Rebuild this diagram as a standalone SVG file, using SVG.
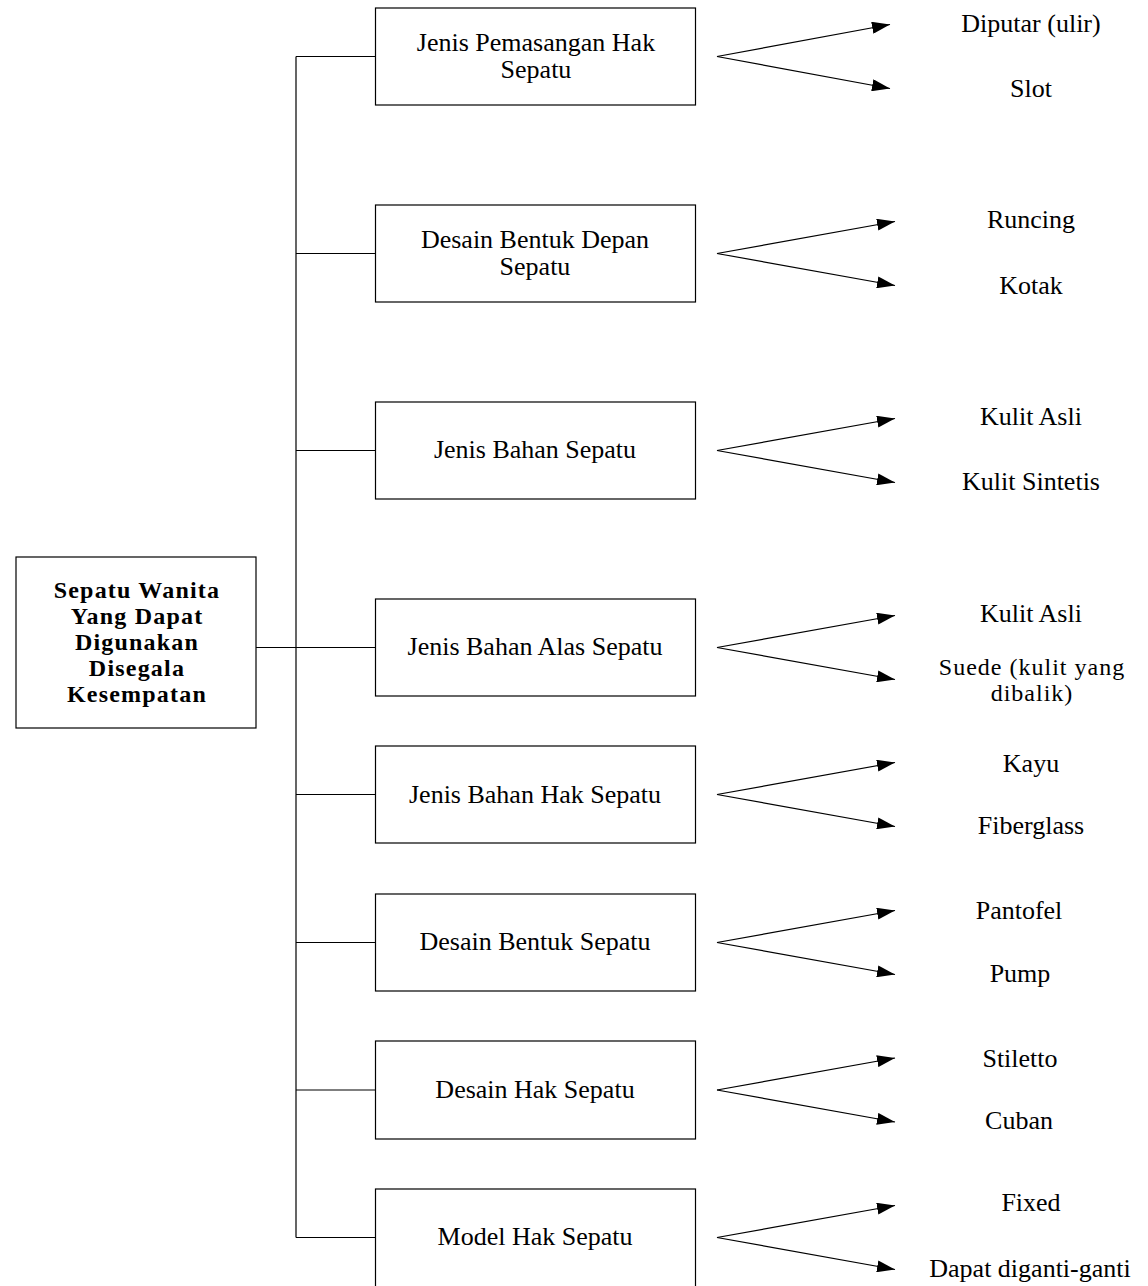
<svg xmlns="http://www.w3.org/2000/svg" width="1148" height="1286" viewBox="0 0 1148 1286">
<style>
.box{fill:#fff;stroke:#000;stroke-width:1.2}
.t{font-family:"Liberation Serif","Times New Roman",serif;font-size:26px;fill:#000;text-anchor:middle}
.b{font-weight:bold;font-size:24px;letter-spacing:1.2px}
.s{font-size:24px;letter-spacing:1px}
.ln{fill:none;stroke:#000;stroke-width:1.2}
</style>
<defs>
<marker id="ah" markerUnits="userSpaceOnUse" markerWidth="18" markerHeight="12" refX="18" refY="6" orient="auto">
<path d="M0,0 L18,6 L0,12 z" fill="#000"/>
</marker>
</defs>
<rect width="1148" height="1286" fill="#fff"/>
<g id="connectors" class="ln">
<path d="M256,647.5 H296 M296,56.5 V1237.5"/>
<path d="M296,56.5 H375 M296,253.5 H375 M296,450.5 H375 M296,647.5 H375 M296,794.5 H375 M296,942.5 H375 M296,1090 H375 M296,1237.5 H375"/>
<line x1="717" y1="56.5" x2="890" y2="24.5" marker-end="url(#ah)"/>
<line x1="717" y1="56.5" x2="890" y2="88.5" marker-end="url(#ah)"/>
<line x1="717" y1="253.5" x2="895" y2="221.5" marker-end="url(#ah)"/>
<line x1="717" y1="253.5" x2="895" y2="285.5" marker-end="url(#ah)"/>
<line x1="717" y1="450.5" x2="895" y2="418.5" marker-end="url(#ah)"/>
<line x1="717" y1="450.5" x2="895" y2="482.5" marker-end="url(#ah)"/>
<line x1="717" y1="647.5" x2="895" y2="615.5" marker-end="url(#ah)"/>
<line x1="717" y1="647.5" x2="895" y2="679.5" marker-end="url(#ah)"/>
<line x1="717" y1="794.5" x2="895" y2="762.5" marker-end="url(#ah)"/>
<line x1="717" y1="794.5" x2="895" y2="826.5" marker-end="url(#ah)"/>
<line x1="717" y1="942.5" x2="895" y2="910.5" marker-end="url(#ah)"/>
<line x1="717" y1="942.5" x2="895" y2="974.5" marker-end="url(#ah)"/>
<line x1="717" y1="1090" x2="895" y2="1058" marker-end="url(#ah)"/>
<line x1="717" y1="1090" x2="895" y2="1122" marker-end="url(#ah)"/>
<line x1="717" y1="1237.5" x2="895" y2="1205.5" marker-end="url(#ah)"/>
<line x1="717" y1="1237.5" x2="895" y2="1269.5" marker-end="url(#ah)"/>
</g>
<g id="root">
<rect class="box" x="16" y="557" width="240" height="171"/>
<text class="t b" x="137" y="598">Sepatu Wanita</text>
<text class="t b" x="137" y="624">Yang Dapat</text>
<text class="t b" x="137" y="650">Digunakan</text>
<text class="t b" x="137" y="676">Disegala</text>
<text class="t b" x="137" y="702">Kesempatan</text>
</g>
<g id="n1">
<rect class="box" x="375.5" y="8" width="320" height="97"/>
<text class="t" x="536" y="51">Jenis Pemasangan Hak</text>
<text class="t" x="536" y="78">Sepatu</text>
</g>
<g id="n2">
<rect class="box" x="375.5" y="205" width="320" height="97"/>
<text class="t" x="535" y="248">Desain Bentuk Depan</text>
<text class="t" x="535" y="275">Sepatu</text>
</g>
<g id="n3">
<rect class="box" x="375.5" y="402" width="320" height="97"/>
<text class="t" x="535" y="458">Jenis Bahan Sepatu</text>
</g>
<g id="n4">
<rect class="box" x="375.5" y="599" width="320" height="97"/>
<text class="t" x="535" y="655">Jenis Bahan Alas Sepatu</text>
</g>
<g id="n5">
<rect class="box" x="375.5" y="746" width="320" height="97"/>
<text class="t" x="535" y="803">Jenis Bahan Hak Sepatu</text>
</g>
<g id="n6">
<rect class="box" x="375.5" y="894" width="320" height="97"/>
<text class="t" x="535" y="950">Desain Bentuk Sepatu</text>
</g>
<g id="n7">
<rect class="box" x="375.5" y="1041" width="320" height="98"/>
<text class="t" x="535" y="1098">Desain Hak Sepatu</text>
</g>
<g id="n8">
<rect class="box" x="375.5" y="1189" width="320" height="110"/>
<text class="t" x="535" y="1245">Model Hak Sepatu</text>
</g>
<g id="leaves">
<text class="t" x="1031" y="32">Diputar (ulir)</text>
<text class="t" x="1031" y="97">Slot</text>
<text class="t" x="1031" y="228">Runcing</text>
<text class="t" x="1031" y="294">Kotak</text>
<text class="t" x="1031" y="425">Kulit Asli</text>
<text class="t" x="1031" y="490">Kulit Sintetis</text>
<text class="t" x="1031" y="622">Kulit Asli</text>
<text class="t s" x="1032" y="675">Suede (kulit yang</text>
<text class="t s" x="1032" y="701">dibalik)</text>
<text class="t" x="1031" y="772">Kayu</text>
<text class="t" x="1031" y="834">Fiberglass</text>
<text class="t" x="1019" y="919">Pantofel</text>
<text class="t" x="1020" y="982">Pump</text>
<text class="t" x="1020" y="1067">Stiletto</text>
<text class="t" x="1019" y="1129">Cuban</text>
<text class="t" x="1031" y="1211">Fixed</text>
<text class="t" x="1030" y="1277">Dapat diganti-ganti</text>
</g>
</svg>
